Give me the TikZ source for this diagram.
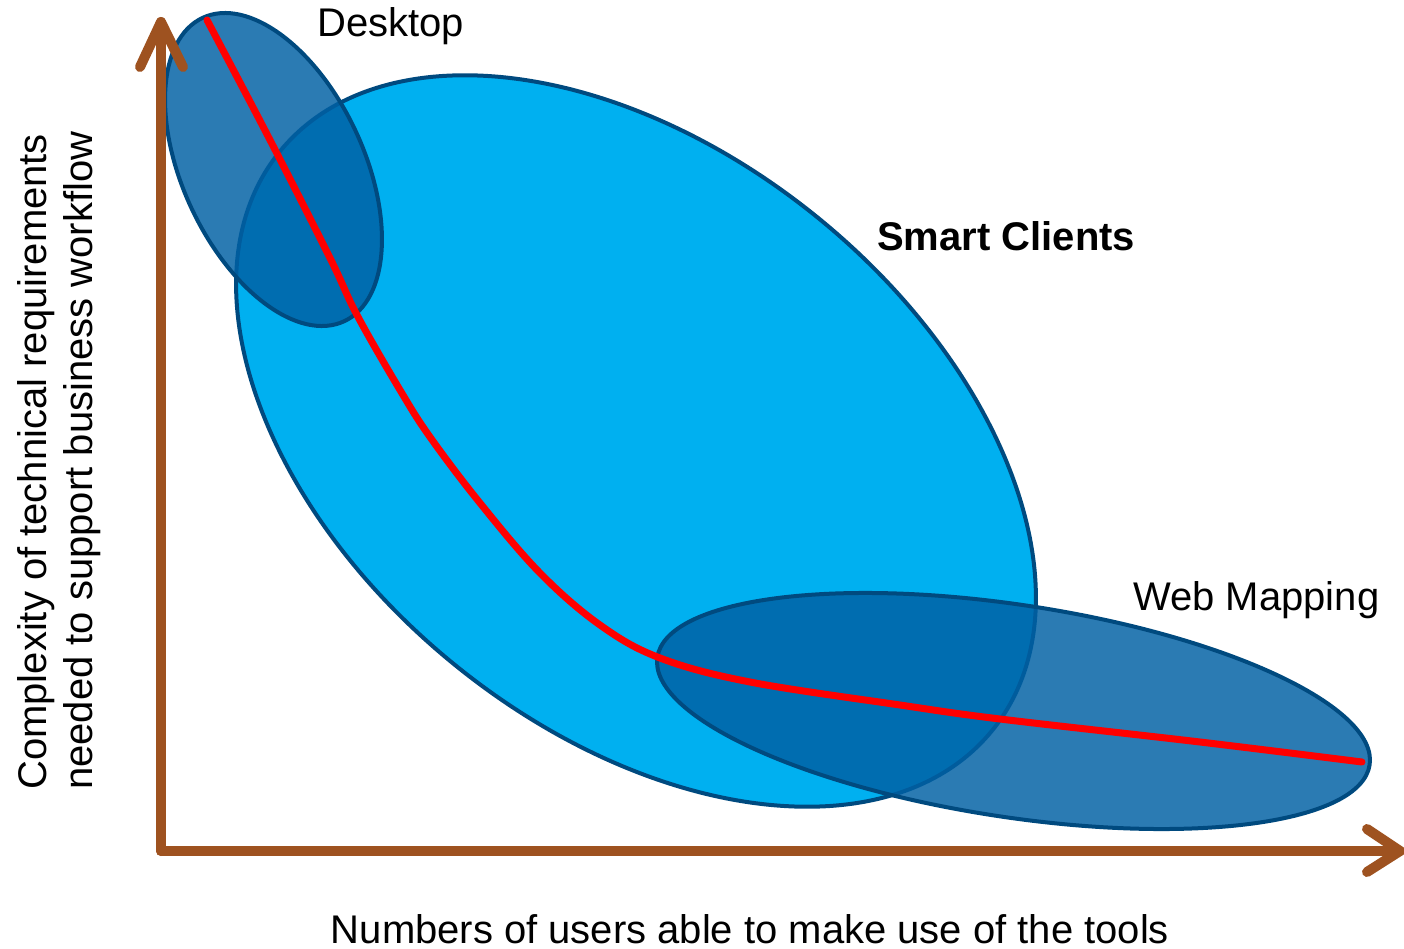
\documentclass[tikz,border=0pt]{standalone}
\usepackage{fontspec}
\setmainfont{Liberation Sans}
\definecolor{smartfill}{RGB}{0,176,240}
\definecolor{bluefill}{RGB}{0,96,164}
\definecolor{edgeblue}{RGB}{0,74,127}
\definecolor{axisbrown}{RGB}{158,82,32}
\definecolor{curvered}{RGB}{255,0,0}
\tikzset{
  blob/.style={draw=edgeblue, line width=3pt},
  smartblob/.style={blob, fill=smartfill},
  overblob/.style={blob, fill=bluefill, fill opacity=0.83},
  axisline/.style={draw=axisbrown, line width=7.5pt, line cap=round, line join=round},
  trend/.style={draw=curvered, line width=5.25pt, line cap=round},
  lbl/.style={font=\fontsize{30pt}{36pt}\selectfont, inner sep=0pt, anchor=base west},
}
\begin{document}
\begin{tikzpicture}[x=0.75pt,y=-0.75pt]
\useasboundingbox (0,0) rectangle (1404,949);
% ellipses
\draw[smartblob] (636,441) ellipse [x radius=459, y radius=288, rotate=-39.1];
\draw[overblob] (273.5,169.5) ellipse [x radius=167.4, y radius=90.7, rotate=-65];
\draw[overblob] (1013.5,711) ellipse [x radius=360.2, y radius=106.2, rotate=-8.6];
% trend curve
\draw[trend] plot[smooth, tension=0.6] coordinates {(207,20) (270,140) (330,258) (357,315) (400,390) (430,437) (480,503) (540,573) (600,625) (660,658) (750,682) (900,705) (1000,719) (1200,742) (1362,762)};
% axes
\coordinate (origin) at (161,851);
\coordinate (ytip) at (161,22);
\coordinate (xtip) at (1400,851);
\draw[axisline] (origin) -- (ytip);
\draw[axisline] (origin) -- (xtip);
\draw[axisline] (140,67) -- (ytip) -- (183,67);
\draw[axisline] (1367,829) -- (xtip) -- (1367,872);
% labels
\node[lbl] (desk) at (317,37) {Desktop};
\node[lbl, font=\fontsize{30pt}{36pt}\selectfont\bfseries] (smart) at (877,250) {Smart Clients};
\node[lbl] (web) at (1133,610) {Web Mapping};
\node[lbl, anchor=base] (xlab) at (750,943) {Numbers of users able to make use of the tools};
\node[lbl, rotate=90] (ylab1) at (46,790) {Complexity of technical requirements};
\node[lbl, rotate=90] (ylab2) at (92,790) {needed to support business workflow};
\end{tikzpicture}
\end{document}
